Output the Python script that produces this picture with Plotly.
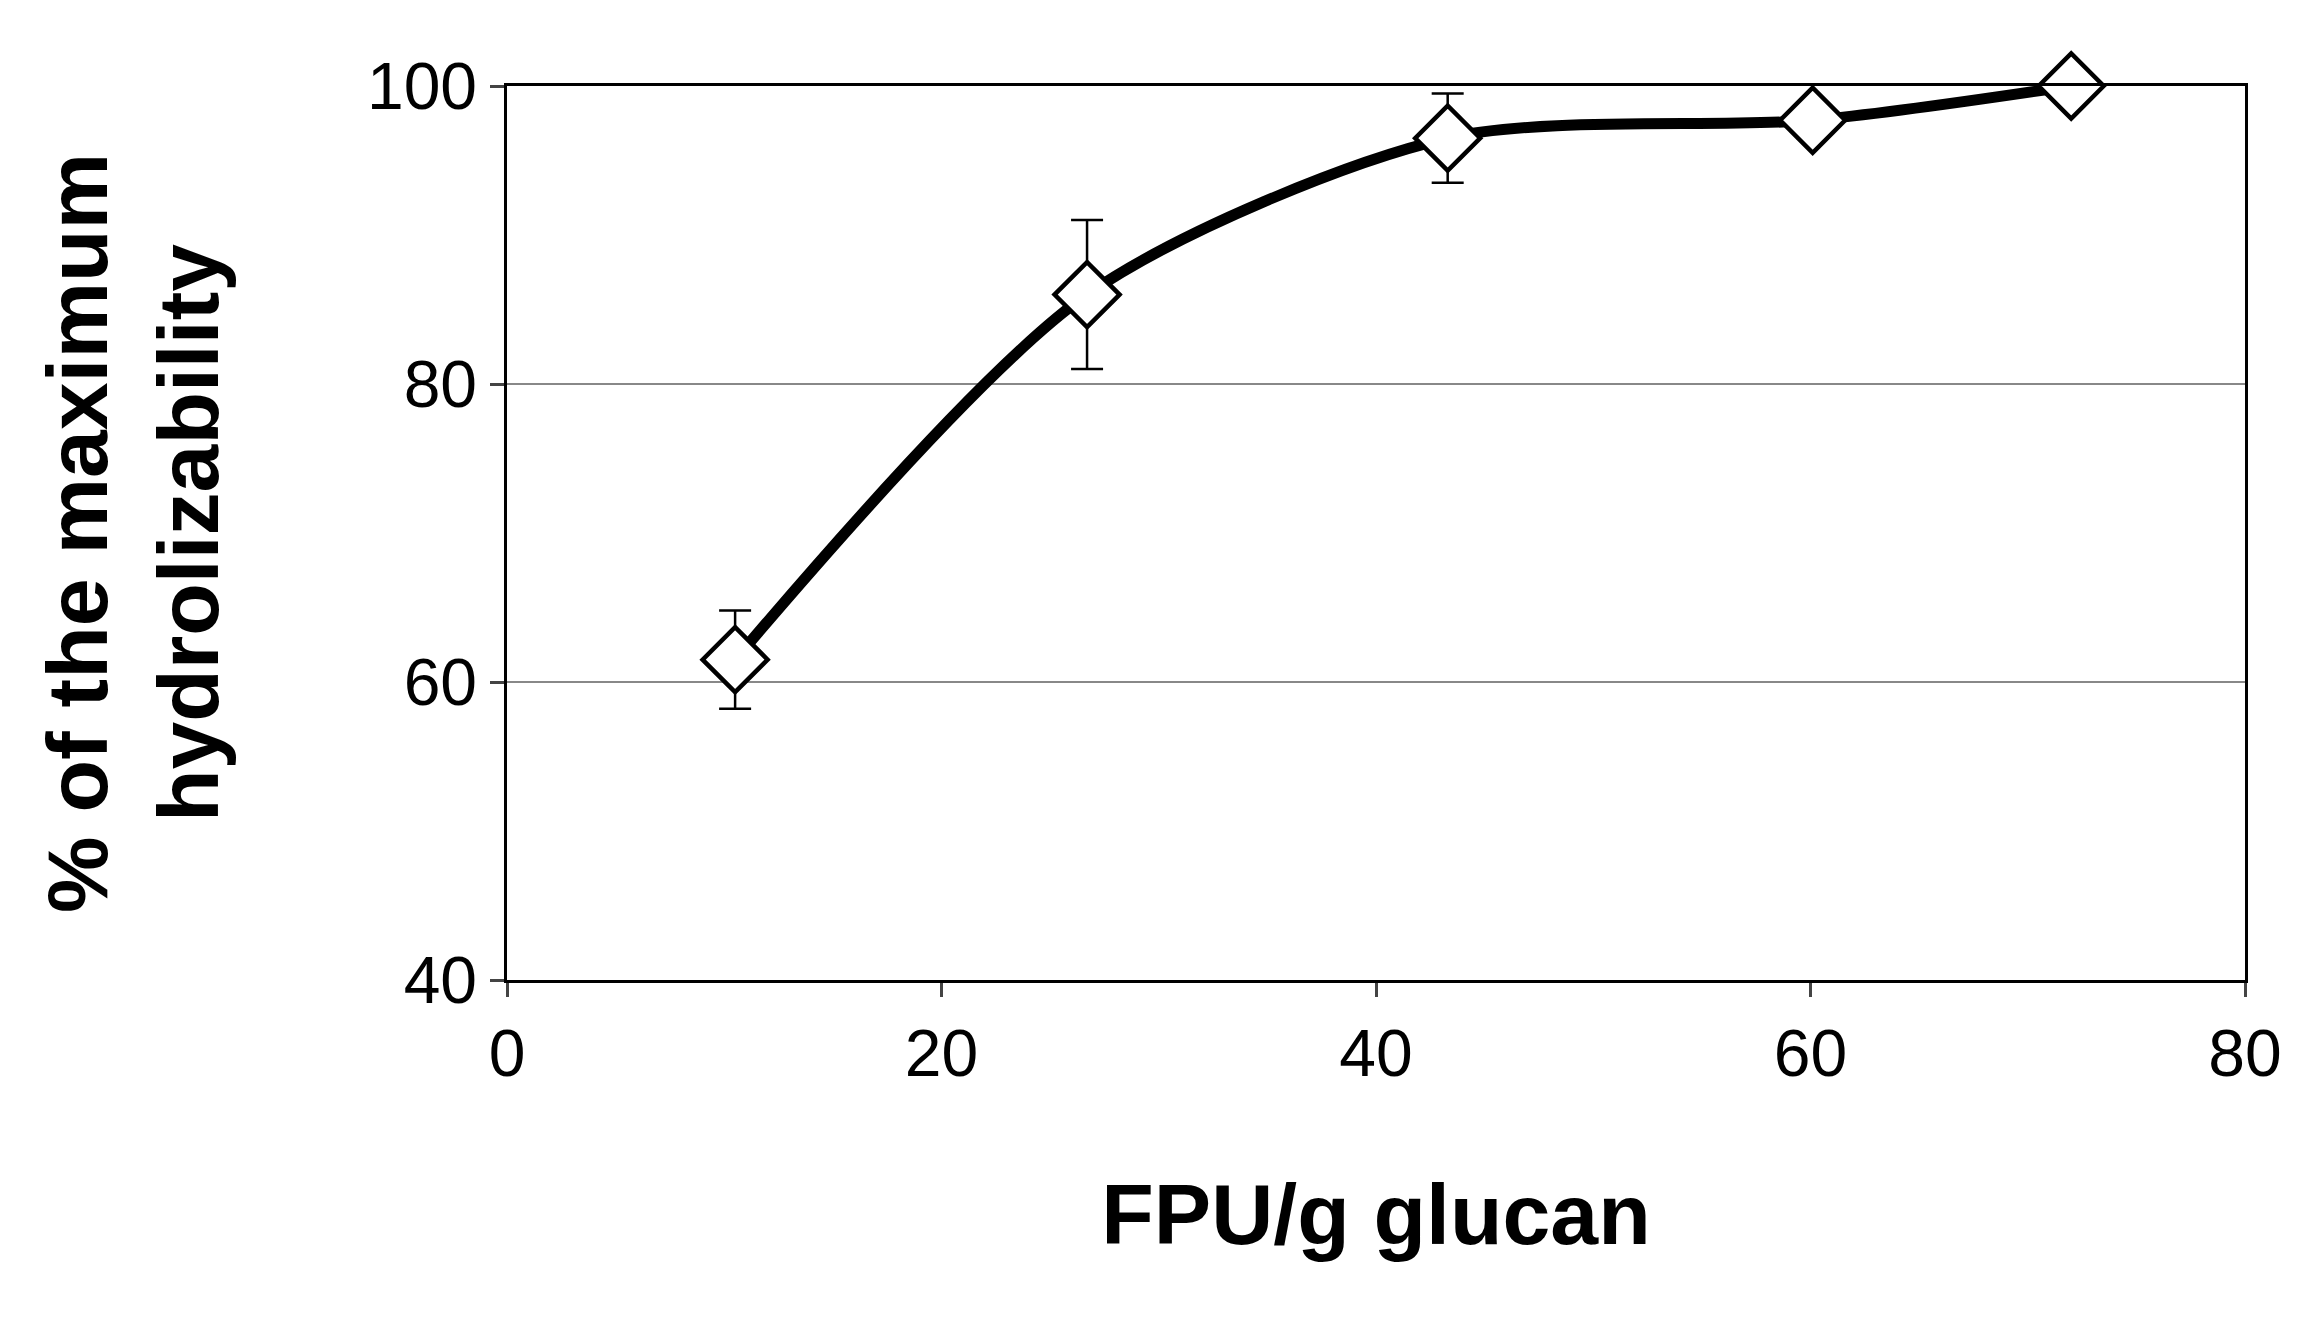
import plotly.graph_objects as go

x = [10.5, 26.7, 43.3, 60.1, 72.0]
y = [61.5, 86.0, 96.5, 97.7, 100.0]
err = [3.3, 5.0, 3.0, 1.2, 0.8]

fig = go.Figure()
fig.add_trace(go.Scatter(
    x=x, y=y, mode="lines+markers",
    line=dict(color="black", width=11, shape="spline", smoothing=0.8),
    marker=dict(symbol="diamond", size=50, color="white", line=dict(color="black", width=4.5)),
    error_y=dict(type="data", array=err, color="black", thickness=2.5, width=16),
    cliponaxis=False,
))
fig.update_layout(
    width=2323, height=1328, plot_bgcolor="white", paper_bgcolor="white",
    margin=dict(l=499, r=86, t=78, b=356),
    font=dict(family="Liberation Sans, Arial", size=66, color="black"),
    showlegend=False,
)
fig.update_xaxes(range=[0, 80], dtick=20, showline=True, linecolor="black", linewidth=2.5, mirror=True,
                 ticks="outside", ticklen=14, tickwidth=2.5, showgrid=False, zeroline=False,
                 title=dict(text="<b>FPU/g glucan</b>", font=dict(size=86), standoff=95))
fig.update_yaxes(range=[40, 100], dtick=20, showline=True, linecolor="black", linewidth=2.5, mirror=True,
                 ticks="outside", ticklen=14, tickwidth=2.5, showgrid=True, gridcolor="#888", gridwidth=2,
                 zeroline=False,
                 title=dict(text="<b>% of the maximum<br>hydrolizability</b>", font=dict(size=86), standoff=120))
fig.write_html("out.html")
